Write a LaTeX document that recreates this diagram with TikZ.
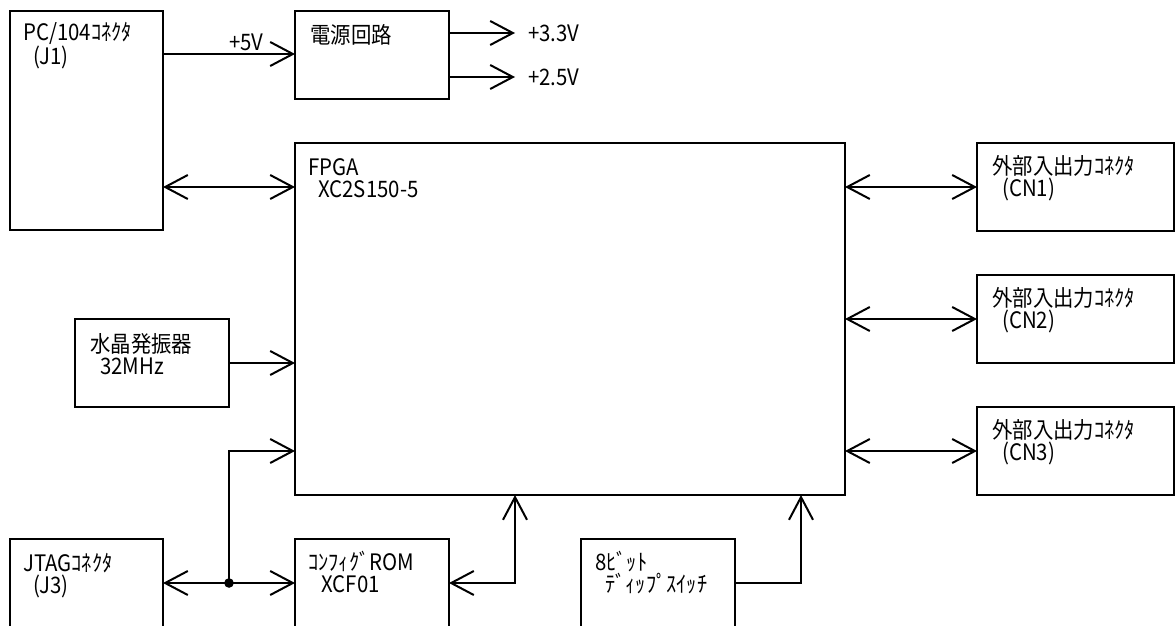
\documentclass[tikz,border=0pt]{standalone}
\usepackage{fontspec}
\setmainfont{Noto Sans CJK JP}[FakeStretch=0.9]
\usetikzlibrary{arrows.meta,calc}
\begin{document}
\begin{tikzpicture}[x=0.75pt,y=-0.75pt,
  box/.style={draw, line width=1.5pt, rectangle, inner sep=0pt, outer sep=0pt, anchor=north west},
  lbl/.style={anchor=base west, inner sep=0pt, align=left, font=\fontsize{17}{16}\selectfont},
  plain/.style={anchor=base west, inner sep=0pt, font=\fontsize{17}{16}\selectfont},
  conn/.style={line width=1.5pt},
  >={Straight Barb[length=17pt,width=18pt]}]
\clip (0,0) rectangle (1176,625);
\fill[white] (0,0) rectangle (1176,625);
% boxes
\node[box, minimum width=114.75pt, minimum height=164.25pt] (pc) at (10,11) {};
\node[box, minimum width=115.5pt, minimum height=66pt] (pw) at (295,11) {};
\node[box, minimum width=412.5pt, minimum height=264pt] (fpga) at (295,143) {};
\node[box, minimum width=147.75pt, minimum height=66pt] (cn1) at (977,143) {};
\node[box, minimum width=147.75pt, minimum height=66pt] (cn2) at (977,275) {};
\node[box, minimum width=147.75pt, minimum height=66pt] (cn3) at (977,407) {};
\node[box, minimum width=115.5pt, minimum height=66pt] (xtal) at (75,319) {};
\node[box, minimum width=114.75pt, minimum height=66pt] (jtag) at (10,539) {};
\node[box, minimum width=115.5pt, minimum height=66pt] (rom) at (295,539) {};
\node[box, minimum width=115.5pt, minimum height=66pt] (dip) at (581,539) {};
% labels (base anchor = baseline of the last line)
\node[lbl] (pct) at (23,64) {PC/104ｺﾈｸﾀ\\\hspace*{7.5pt}(J1)};
\node[plain] (pwt) at (310,43) {電源回路};
\node[lbl] (fpgat) at (308,197) {FPGA\\\hspace*{7.5pt}XC2S150-5};
\node[lbl] (cn1t) at (992,196) {外部入出力ｺﾈｸﾀ\\\hspace*{7.5pt}(CN1)};
\node[lbl] (cn2t) at (992,328) {外部入出力ｺﾈｸﾀ\\\hspace*{7.5pt}(CN2)};
\node[lbl] (cn3t) at (992,460) {外部入出力ｺﾈｸﾀ\\\hspace*{7.5pt}(CN3)};
\node[lbl] (xtalt) at (90,374) {水晶発振器\\\hspace*{7.5pt}32MHz};
\node[lbl] (jtagt) at (23,593) {JTAGｺﾈｸﾀ\\\hspace*{7.5pt}(J3)};
\node[lbl] (romt) at (308,592) {ｺﾝﾌｨｸﾞROM\\\hspace*{10pt}XCF01};
\node[lbl] (dipt) at (595,592) {8ﾋﾞｯﾄ\\\hspace*{7.5pt}ﾃﾞｨｯﾌﾟｽｲｯﾁ};
% power
\draw[conn,->] ($(pc.north east)+(0,43)$) coordinate (p5) -- (p5 -| pw.west)
  node[plain, pos=1, xshift=-50pt, yshift=3pt] (v5) {+5V};
\draw[conn,->] ($(pw.north east)+(0,22)$) coordinate (o33) -- ++(66,0)
  node[plain, xshift=9pt, anchor=west] (v33) {+3.3V};
\draw[conn,->] ($(pw.north east)+(0,66)$) coordinate (o25) -- ++(66,0)
  node[plain, xshift=9pt, anchor=west] (v25) {+2.5V};
% pc <-> fpga
\draw[conn,<->] (pc.east |- cn1.west) -- (fpga.west |- cn1.west);
% fpga <-> connectors
\draw[conn,<->] (fpga.east |- cn1.west) -- (cn1.west);
\draw[conn,<->] (fpga.east |- cn2.west) -- (cn2.west);
\draw[conn,<->] (fpga.east |- cn3.west) -- (cn3.west);
% crystal
\draw[conn,->] (xtal.east) -- (fpga.west |- xtal.east);
% jtag
\coordinate (jn) at (xtal.east |- jtag.east);
\draw[conn,<->] (jtag.east) -- (rom.west);
\draw[conn,->] (jn) |- (fpga.west |- cn3.west);
\fill (jn) circle[radius=3.6pt];
% rom <-> fpga
\coordinate (romin) at ($(fpga.south west)+(220,0)$);
\draw[conn,<->] (rom.east) -| (romin);
% dip -> fpga
\coordinate (dipin) at ($(fpga.south west)+(506,0)$);
\draw[conn,->] (dip.east) -| (dipin);
\end{tikzpicture}
\end{document}
